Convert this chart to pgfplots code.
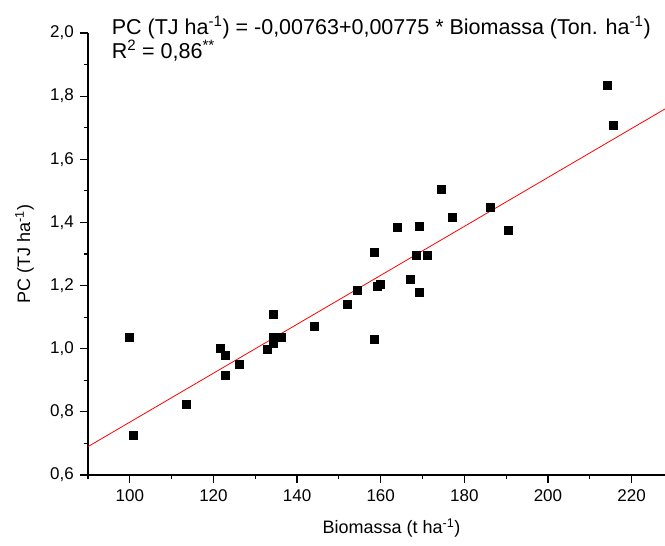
\documentclass[border=0pt]{standalone}
\usepackage{fontspec}
\setmainfont{Liberation Sans}
\usepackage{pgfplots}
\pgfplotsset{compat=1.18}
\begin{document}
\fontsize{18}{21}\selectfont
\begin{tikzpicture}
\begin{axis}[
  scale only axis, width=577pt, height=442pt,
  xmin=90, xmax=228, ymin=0.6, ymax=2.0,
  axis lines=left, axis line style={-, line width=1.4pt, black},
  tick align=outside,
  xtick={100,120,140,160,180,200,220},
  minor xtick={90,110,130,150,170,190,210},
  ytick={0.6,0.8,1.0,1.2,1.4,1.6,1.8,2.0},
  minor ytick={0.7,0.9,1.1,1.3,1.5,1.7,1.9},
  major tick length=8pt, minor tick length=4pt,
  tick style={black, line width=1.2pt},
  /pgf/number format/assume math mode=true,
  yticklabel style={/pgf/number format/.cd, fixed, fixed zerofill, precision=1, use comma},
  xticklabel style={/pgf/number format/.cd, fixed, precision=0, 1000 sep={}},
  tick label style={font=\fontsize{17}{20}\selectfont},
  label style={font=\fontsize{18}{21}\selectfont},
  xlabel={Biomassa (t ha\textsuperscript{-1})},
  ylabel={PC (TJ ha\textsuperscript{-1})},
  xlabel shift=5pt, ylabel shift=4pt,
  xlabel style={xshift=15pt},
  clip=false,
]
\addplot[only marks, mark=square*, mark size=4pt, black] coordinates {
(99.8,1.035) (100.9,0.727) (113.5,0.825) (121.6,1.003) (122.8,0.981)
(122.8,0.917) (126.2,0.952) (132.8,1.000) (134.2,1.108) (134.2,1.038)
(134.2,1.019) (136.1,1.038) (144.0,1.070) (152.1,1.140) (154.5,1.184)
(158.5,1.305) (158.5,1.029) (159.2,1.197) (159.9,1.203) (164.0,1.384)
(167.1,1.219) (168.5,1.295) (169.2,1.387) (169.2,1.178) (171.1,1.295)
(174.4,1.505) (177.1,1.416) (186.3,1.448) (190.4,1.375) (214.2,1.835)
(215.6,1.708)
};
\addplot[red, line width=0.8pt] coordinates {(90,0.6899) (228,1.7594)};
\node[anchor=base west, inner sep=0pt, font=\fontsize{21.5}{24}\selectfont] at (rel axis cs:0.041,0.997)
  {PC (TJ ha\textsuperscript{-1}) = -0,00763+0,00775 * Biomassa (Ton. ha\textsuperscript{-1})};
\node[anchor=base west, inner sep=0pt, font=\fontsize{21.5}{24}\selectfont] at (rel axis cs:0.041,0.943)
  {R\textsuperscript{2} = 0,86\textsuperscript{**}};
\end{axis}
\pgfresetboundingbox
\path[use as bounding box] ([xshift=-88pt,yshift=-70pt]current axis.south west) rectangle ([yshift=33pt]current axis.north east);
\end{tikzpicture}
\end{document}
